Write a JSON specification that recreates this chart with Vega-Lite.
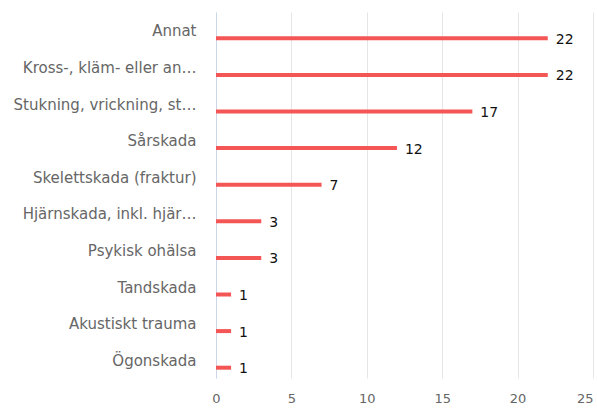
{
  "$schema": "https://vega.github.io/schema/vega-lite/v6.json",
  "width": 377,
  "height": 366,
  "autosize": {"type": "none"},
  "padding": {"left": 216, "top": 12, "right": 4, "bottom": 30},
  "background": "white",
  "config": {"view": {"stroke": null}, "font": "DejaVu Sans"},
  "data": {
    "values": [
      {"kategori": "Annat", "antal": 22},
      {"kategori": "Kross-, kläm- eller an…", "antal": 22},
      {"kategori": "Stukning, vrickning, st…", "antal": 17},
      {"kategori": "Sårskada", "antal": 12},
      {"kategori": "Skelettskada (fraktur)", "antal": 7},
      {"kategori": "Hjärnskada, inkl. hjär…", "antal": 3},
      {"kategori": "Psykisk ohälsa", "antal": 3},
      {"kategori": "Tandskada", "antal": 1},
      {"kategori": "Akustiskt trauma", "antal": 1},
      {"kategori": "Ögonskada", "antal": 1}
    ]
  },
  "encoding": {
    "y": {
      "field": "kategori",
      "type": "nominal",
      "sort": null,
      "axis": {
        "title": null,
        "ticks": false,
        "grid": false,
        "domain": true,
        "domainColor": "#ccd6eb",
        "domainWidth": 1,
        "labelColor": "#666666",
        "labelFontSize": 15,
        "labelPadding": 20,
        "labelOffset": 1,
        "labelLimit": 300
      }
    },
    "x": {
      "field": "antal",
      "type": "quantitative",
      "scale": {"domain": [0, 25], "nice": false},
      "axis": {
        "title": null,
        "values": [0, 5, 10, 15, 20, 25],
        "ticks": false,
        "domain": false,
        "grid": true,
        "gridColor": "#e6e6e6",
        "labelColor": "#666666",
        "labelFontSize": 13,
        "labelPadding": 14,
        "labelFlush": false,
        "labelAlign": {"condition": {"test": "datum.value === 25", "value": "right"}, "value": "center"}
      }
    }
  },
  "layer": [
    {
      "mark": {"type": "bar", "color": "#f45555", "height": 4, "yOffset": 8}
    },
    {
      "mark": {"type": "text", "align": "left", "baseline": "middle", "dx": 8, "yOffset": 9.5, "fontSize": 14, "color": "#111111"},
      "encoding": {"text": {"field": "antal", "type": "quantitative"}}
    }
  ]
}
